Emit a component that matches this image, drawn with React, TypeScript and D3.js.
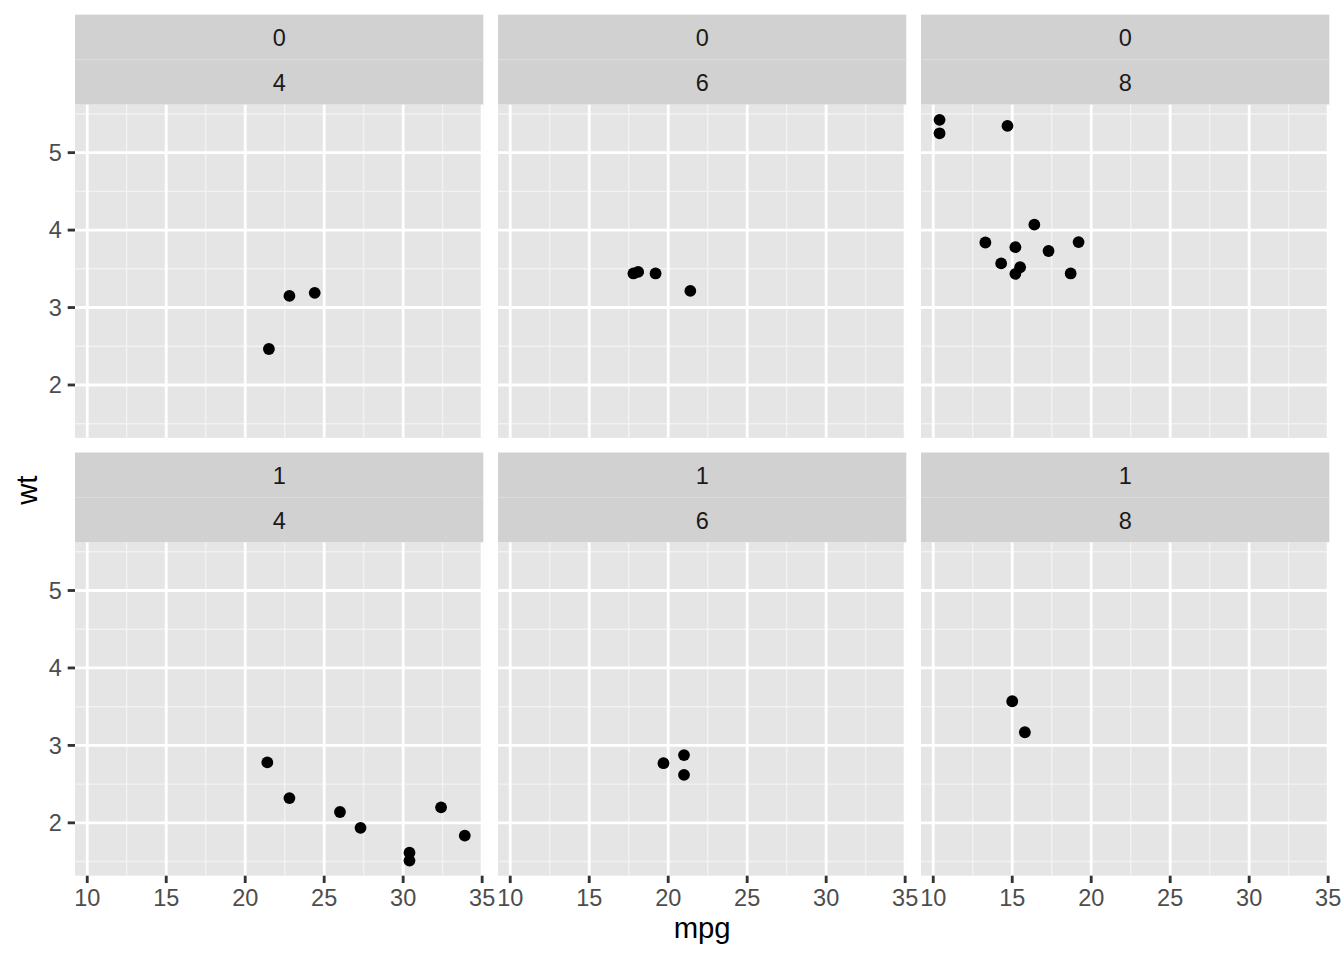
import React from "react";
import * as d3 from "d3";

// mtcars
const mpg = [21.0, 21.0, 22.8, 21.4, 18.7, 18.1, 14.3, 24.4, 22.8, 19.2, 17.8, 16.4, 17.3, 15.2, 10.4, 10.4, 14.7, 32.4, 30.4, 33.9, 21.5, 15.5, 15.2, 13.3, 19.2, 27.3, 26.0, 30.4, 15.8, 19.7, 15.0, 21.4];
const wt = [2.62, 2.875, 2.32, 3.215, 3.44, 3.46, 3.57, 3.19, 3.15, 3.44, 3.44, 4.07, 3.73, 3.78, 5.25, 5.424, 5.345, 2.2, 1.615, 1.835, 2.465, 3.52, 3.435, 3.84, 3.845, 1.935, 2.14, 1.513, 3.17, 2.77, 3.57, 2.78];
const cyl = [6, 6, 4, 6, 8, 6, 8, 4, 4, 6, 6, 8, 8, 8, 8, 8, 8, 4, 4, 4, 4, 8, 8, 8, 8, 4, 4, 4, 8, 6, 8, 4];
const am = [1, 1, 1, 0, 0, 0, 0, 0, 0, 0, 0, 0, 0, 0, 0, 0, 0, 1, 1, 1, 0, 0, 0, 0, 0, 1, 1, 1, 1, 1, 1, 1];

const amLevels = [0, 1];
const cylLevels = [4, 6, 8];
const xTicks = [10, 15, 20, 25, 30, 35];
const xMinor = [12.5, 17.5, 22.5, 27.5, 32.5];
const yTicks = [2, 3, 4, 5];
const yMinor = [1.5, 2.5, 3.5, 4.5, 5.5];

const W = 1344;
const H = 960;
const margin = 14.67;
const left = 75;
const spacing = 14.67;
const panelW = (W - margin - left - 2 * spacing) / 3;
const stripH = 45;
const panelBottom = 875.7;
const panelH = (panelBottom - margin - spacing) / 2 - 2 * stripH;

const font = "'Liberation Sans', Arial, Helvetica, sans-serif";
const stripFill = "#D1D1D1";
const panelFill = "#E5E5E5";

function extent(a: number[]): [number, number] {
  const [mn, mx] = d3.extent(a) as [number, number];
  const r = mx - mn;
  return [mn - 0.05 * r, mx + 0.05 * r];
}

export default function App() {
  const xDom = extent(mpg);
  const yDom = extent(wt);
  const panels: JSX.Element[] = [];
  amLevels.forEach((a, ri) => {
    cylLevels.forEach((c, ci) => {
      const x0 = left + ci * (panelW + spacing);
      const sy = margin + ri * (2 * stripH + panelH + spacing);
      const py = sy + 2 * stripH;
      const x = d3.scaleLinear().domain(xDom).range([x0, x0 + panelW]);
      const y = d3.scaleLinear().domain(yDom).range([py + panelH, py]);
      const idx = d3.range(mpg.length).filter((i) => am[i] === a && cyl[i] === c);
      panels.push(
        <g key={`${ri}-${ci}`}>
          <rect x={x0} y={sy} width={panelW} height={stripH} fill={stripFill} />
          <rect x={x0} y={sy + stripH} width={panelW} height={stripH} fill={stripFill} />
          <line x1={x0} x2={x0 + panelW} y1={sy + stripH} y2={sy + stripH} stroke="#DCDCDC" strokeWidth={1.2} />
          <text x={x0 + panelW / 2} y={sy + stripH / 2 + 8.5} textAnchor="middle" fontSize={23.5} fill="#1A1A1A" fontFamily={font}>{a}</text>
          <text x={x0 + panelW / 2} y={sy + stripH * 1.5 + 8.5} textAnchor="middle" fontSize={23.5} fill="#1A1A1A" fontFamily={font}>{c}</text>
          <rect x={x0} y={py} width={panelW} height={panelH} fill={panelFill} />
          {xMinor.map((v) => (
            <line key={`xm${v}`} x1={x(v)} x2={x(v)} y1={py} y2={py + panelH} stroke="#F2F2F2" strokeWidth={1.42} />
          ))}
          {yMinor.map((v) => (
            <line key={`ym${v}`} x1={x0} x2={x0 + panelW} y1={y(v)} y2={y(v)} stroke="#F2F2F2" strokeWidth={1.42} />
          ))}
          {xTicks.map((v) => (
            <line key={`xM${v}`} x1={x(v)} x2={x(v)} y1={py} y2={py + panelH} stroke="#fff" strokeWidth={2.84} />
          ))}
          {yTicks.map((v) => (
            <line key={`yM${v}`} x1={x0} x2={x0 + panelW} y1={y(v)} y2={y(v)} stroke="#fff" strokeWidth={2.84} />
          ))}
          {idx.map((i) => (
            <circle key={i} cx={x(mpg[i])} cy={y(wt[i])} r={5.9} fill="#000" />
          ))}
          {ci === 0 &&
            yTicks.map((v) => (
              <g key={`yt${v}`}>
                <line x1={x0 - 7.3} x2={x0} y1={y(v)} y2={y(v)} stroke="#333" strokeWidth={2.84} />
                <text x={x0 - 13.2} y={y(v) + 8.4} textAnchor="end" fontSize={23.5} fill="#4D4D4D" fontFamily={font}>{v}</text>
              </g>
            ))}
          {ri === 1 &&
            xTicks.map((v) => (
              <g key={`xt${v}`}>
                <line x1={x(v)} x2={x(v)} y1={py + panelH} y2={py + panelH + 7.3} stroke="#333" strokeWidth={2.84} />
                <text x={x(v)} y={py + panelH + 30.3} textAnchor="middle" fontSize={23.5} fill="#4D4D4D" fontFamily={font}>{v}</text>
              </g>
            ))}
        </g>
      );
    });
  });
  const row0Top = margin + 2 * stripH;
  return (
    <div style={{ position: "fixed", left: 0, top: 0 }}>
      <svg width={W} height={H} style={{ display: "block", background: "#fff" }}>
        <rect x={0} y={0} width={W} height={H} fill="#fff" />
        {panels}
        <text x={left + (W - margin - left) / 2} y={938.3} textAnchor="middle" fontSize={29.3} fill="#000" fontFamily={font}>mpg</text>
        <text transform={`translate(36.5, ${(row0Top + panelBottom) / 2}) rotate(-90)`} textAnchor="middle" fontSize={29.3} fill="#000" fontFamily={font}>wt</text>
      </svg>
    </div>
  );
}
